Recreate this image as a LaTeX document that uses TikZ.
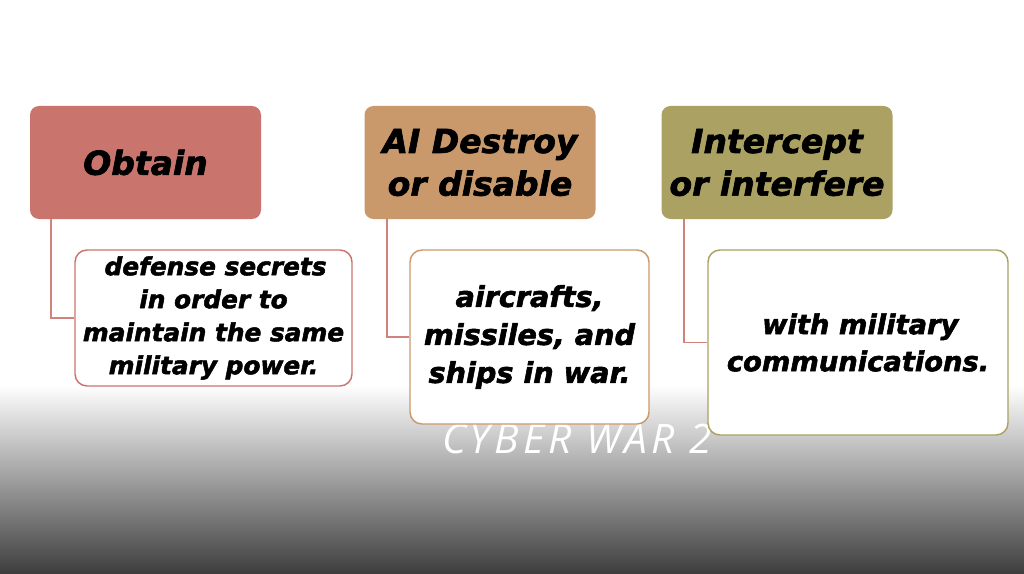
\documentclass[tikz,border=0pt]{standalone}
\usepackage{fontspec}
\newfontfamily\heavyfont{DejaVu Sans}[BoldItalicFeatures={FakeBold=2}]
\newfontfamily\slidefont{Open Sans}[LetterSpace=10]
\definecolor{rosebox}{RGB}{201,117,110}
\definecolor{tanbox}{RGB}{201,153,107}
\definecolor{olivebox}{RGB}{170,161,98}
\definecolor{linkred}{RGB}{208,130,125}
\tikzset{
  head/.style={rounded corners=6.75pt, minimum width=173.25pt, minimum height=84.75pt, inner sep=0pt, align=center,
    font=\heavyfont\bfseries\itshape\fontsize{24.75}{32}\selectfont},
  leaf/.style={draw, line width=1.1pt, fill=white, rounded corners=9pt, inner sep=0pt, align=center},
  link/.style={draw=linkred, line width=1.1pt},
  leaftxt/.style n args={2}{font=\heavyfont\bfseries\itshape\fontsize{#1}{#2}\selectfont}
}

\begin{document}
\begin{tikzpicture}[x=0.75pt, y=-0.75pt]
	\useasboundingbox (0,0) rectangle (1024,574);
	\shade[top color=white, bottom color=black!76] (0,385) rectangle (1024,574);
	\node[text=white, font=\slidefont\itshape\fontsize{30.5}{36}\selectfont, anchor=base] (ttl) at (577,453) {CYBER WAR 2};
	\node[head, fill=rosebox] (ob) at (145.5,162.5) {Obtain};
	\node[head, fill=tanbox] (de) at (480,162.5) {AI Destroy\\or disable};
	\node[head, fill=olivebox] (ic) at (777,162.5) {Intercept\\or interfere};
	\node[leaf, draw=rosebox, minimum width=207.75pt, minimum height=102pt, leaftxt={18.6}{24.75}] (obd) at (213.5,318)
		{\,defense secrets\\in order to\\maintain the same\\military power.};
	\node[leaf, draw=tanbox, minimum width=179.25pt, minimum height=130.5pt, leaftxt={21.5}{28.5}] (ded) at (529.5,337)
		{aircrafts,\\missiles, and\\ships in war.};
	\node[leaf, draw=olivebox, minimum width=225pt, minimum height=138.75pt, leaftxt={20.5}{27.75}] (icd) at (858,342.5)
		{\,with military\\communications.};
	\draw[link] ([xshift=16pt]ob.south west) |- (obd.west);
	\draw[link] ([xshift=17pt]de.south west) |- (ded.west);
	\draw[link] ([xshift=17pt]ic.south west) |- (icd.west);
\end{tikzpicture}
\end{document}
